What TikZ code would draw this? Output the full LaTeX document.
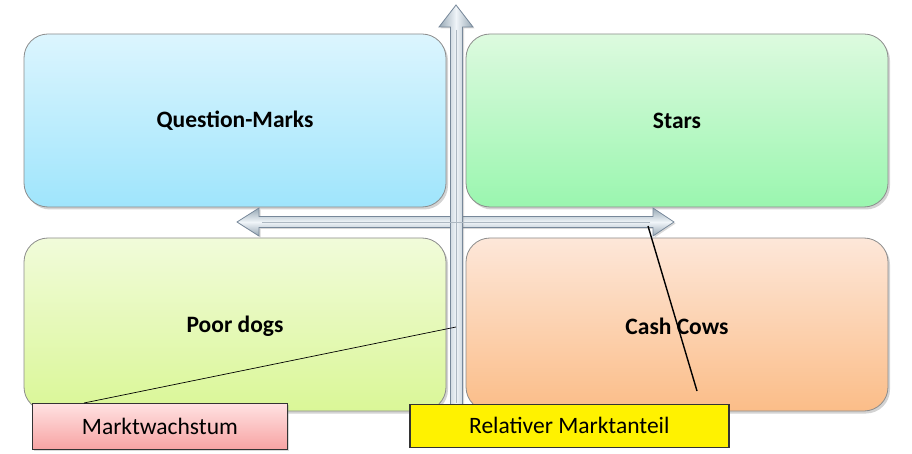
\documentclass[tikz,border=0pt]{standalone}
\usepackage{fontspec}
\setmainfont{Carlito}
\usetikzlibrary{shadows}
\definecolor{qtop}{HTML}{DCF5FE}\definecolor{qbot}{HTML}{9FE5FC}
\definecolor{stop}{HTML}{DDFADF}\definecolor{sbot}{HTML}{9AF6AF}
\definecolor{dtop}{HTML}{F1FBDA}\definecolor{dbot}{HTML}{DAF797}
\definecolor{ctop}{HTML}{FDE7D9}\definecolor{cbot}{HTML}{FBBD88}
\definecolor{axedge}{HTML}{77889A}\definecolor{axlight}{HTML}{F0F5F9}\definecolor{axdark}{HTML}{97A8B5}
\definecolor{pinktop}{HTML}{FFE2E2}\definecolor{pinkbot}{HTML}{F7A3A3}
\tikzset{
  quad/.style={draw=black!45, line width=0.8pt, rounded corners=24pt,
    drop shadow={shadow xshift=2pt, shadow yshift=-2.5pt, opacity=0.35}},
  qlab/.style={font=\fontsize{23.5}{28}\selectfont\bfseries},
  axis/.style={draw=axedge, line width=0.8pt, line join=miter},
  lab/.style={draw=black!80, font=\fontsize{23.5}{28}\selectfont, inner sep=0pt},
  conn/.style={draw=black, line width=0.7pt}
}
\begin{document}
\begin{tikzpicture}[x=1pt,y=-1pt]
\useasboundingbox (0,0) rectangle (912,454);
% quadrants
\path[quad, top color=qtop, bottom color=qbot] (24,34) rectangle (446,207);
\node[qlab] (qm) at (235,121) {Question-Marks};
\path[quad, top color=stop, bottom color=sbot] (466,34) rectangle (888,207);
\node[qlab] (st) at (677,121) {Stars};
\path[quad, top color=dtop, bottom color=dbot] (24,238) rectangle (446,411);
\node[qlab] (pd) at (235,326) {Poor dogs};
\path[quad, top color=ctop, bottom color=cbot] (466,238) rectangle (888,411);
\node[qlab] (cc) at (677,326) {Cash Cows};
% horizontal axis
\path[axis, top color=axdark, bottom color=axdark, middle color=axlight,
  drop shadow={shadow xshift=1.5pt, shadow yshift=-1.5pt, opacity=0.3}]
  (237,222) -- (259,208) -- (259,216.5) -- (653,216.5) -- (653,208) -- (674,222)
  -- (653,236) -- (653,227.5) -- (259,227.5) -- (259,236) -- cycle;
% vertical axis
\path[axis, left color=axdark, right color=axdark, middle color=axlight,
  drop shadow={shadow xshift=1.5pt, shadow yshift=-1.5pt, opacity=0.3}]
  (456,5) -- (473,27) -- (462.5,27) -- (462.5,405) -- (450.5,405) -- (450.5,27)
  -- (439,27) -- cycle;
\draw[axedge!60, line width=0.6pt] (456,30) -- (456,403);
\draw[axedge!60, line width=0.6pt] (262,222) -- (650,222);
\coordinate (hx) at (648,226);
\coordinate (vx) at (456,327);
% label boxes
\node[lab, line width=0.8pt, top color=pinktop, bottom color=pinkbot,
  minimum width=255pt, minimum height=46pt, anchor=north west,
  drop shadow={shadow xshift=2pt, shadow yshift=-2pt, opacity=0.3}] (mw) at (32,403) {Marktwachstum};
\node[lab, line width=1.6pt, fill=yellow, minimum width=319pt, minimum height=43pt,
  anchor=north west] (rm) at (409,403.5) {Relativer Marktanteil};
% connectors
\draw[conn] (84,403) -- (vx);
\draw[conn, line width=1.4pt] (hx) -- (697,391);
\end{tikzpicture}
\end{document}
